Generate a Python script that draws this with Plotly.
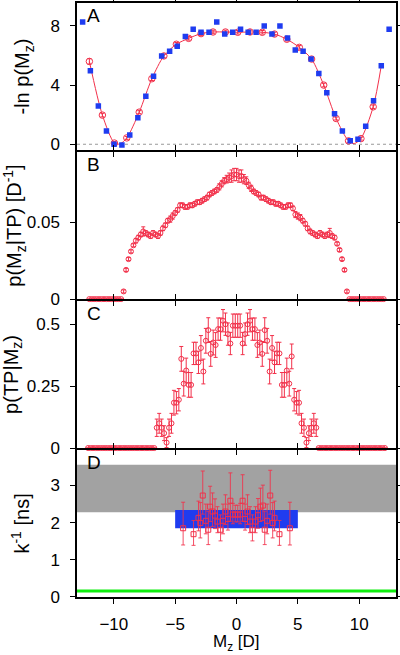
import plotly.graph_objects as go
from plotly.subplots import make_subplots

# ---------------- Panel A ----------------
A_blue_x = [-12.54, -11.91, -11.26, -10.6, -9.98, -9.34, -8.7, -8.04, -7.39, -6.76,
            -6.1, -5.45, -4.83, -4.17, -3.53, -2.89, -2.24, -1.61, -0.96, -0.31,
            0.33, 0.95, 1.6, 2.26, 2.89, 3.54, 4.16, 4.79, 5.43, 6.08,
            6.71, 7.36, 7.99, 8.63, 9.27, 9.9, 10.53, 11.17, 11.8, 12.44]
A_blue_y = [8.27, 4.97, 2.58, 0.90, 0.0, -0.05, 0.63, 1.79, 3.25, 4.59,
            5.97, 6.28, 6.62, 7.28, 7.77, 7.57, 7.57, 8.27, 7.46, 7.57,
            7.77, 7.57, 7.57, 8.0, 7.45, 8.0, 7.19, 6.37, 6.28, 5.76,
            4.79, 3.48, 2.06, 0.90, 0.23, 0.34, 1.22, 2.94, 5.31, 7.77]

A_red_x = [-11.99, -10.93, -9.95, -8.94, -7.93, -6.9, -5.92, -4.9, -3.9, -2.89,
           -1.91, -0.9, 0.1, 1.1, 2.1, 3.1, 4.1, 5.12, 6.12, 7.11,
           8.12, 9.13, 10.14, 11.14]
A_red_y = [5.60, 1.97, 0.08, 0.43, 2.17, 4.43, 5.97, 6.76, 7.16, 7.48,
           7.59, 7.59, 7.57, 7.59, 7.57, 7.45, 7.10, 6.55, 5.76, 4.00,
           1.74, 0.23, 0.38, 2.53]
A_red_err = [0.18, 0.12, 0.1, 0.1, 0.1, 0.12, 0.12, 0.12, 0.12, 0.12,
             0.12, 0.12, 0.12, 0.12, 0.12, 0.12, 0.12, 0.12, 0.12, 0.12,
             0.1, 0.1, 0.1, 0.12]

A_fit_x = [-11.99, -10.93, -9.95, -9.5, -8.94, -7.93, -6.9, -5.92, -4.9, -3.9, -2.89,
           -1.91, -0.9, 0.1, 1.1, 2.1, 3.1, 4.1, 5.12, 6.12, 7.11,
           8.12, 9.13, 9.6, 10.14, 11.14, 11.8]
A_fit_y = [5.60, 1.97, 0.08, 0.02, 0.43, 2.17, 4.43, 5.97, 6.76, 7.16, 7.48,
           7.59, 7.59, 7.57, 7.59, 7.57, 7.45, 7.10, 6.55, 5.76, 4.00,
           1.74, 0.23, 0.05, 0.38, 2.53, 5.31]

# ---------------- Panel B ----------------
B_x = [-12.0, -11.8, -11.6, -11.4, -11.2, -11.0, -10.8, -10.6, -10.4, -10.2,
       -10.0, -9.8, -9.6, -9.4, -9.2, -9.0, -8.8, -8.6, -8.4, -8.2,
       -8.0, -7.8, -7.6, -7.4, -7.2, -7.0, -6.8, -6.6, -6.4, -6.2,
       -6.0, -5.8, -5.6, -5.4, -5.2, -5.0, -4.8, -4.6, -4.4, -4.2,
       -4.0, -3.8, -3.6, -3.4, -3.2, -3.0, -2.8, -2.6, -2.4, -2.2,
       -2.0, -1.8, -1.6, -1.4, -1.2, -1.0, -0.8, -0.6, -0.4, -0.2,
       0.0, 0.2, 0.4, 0.6, 0.8, 1.0, 1.2, 1.4, 1.6, 1.8,
       2.0, 2.2, 2.4, 2.6, 2.8, 3.0, 3.2, 3.4, 3.6, 3.8,
       4.0, 4.2, 4.4, 4.6, 4.8, 5.0, 5.2, 5.4, 5.6, 5.8,
       6.0, 6.2, 6.4, 6.6, 6.8, 7.0, 7.2, 7.4, 7.6, 7.8,
       8.0, 8.2, 8.4, 8.6, 8.8, 9.0, 9.2, 9.4, 9.6, 9.8,
       10.0, 10.2, 10.4, 10.6, 10.8, 11.0, 11.2, 11.4, 11.6, 11.8,
       12.0]
B_y = [0, 0, 0, 0, 0, 0, 0, 0, 0, 0,
       0, 0, 0, 0, 0.005, 0.019, 0.026, 0.031, 0.035, 0.038,
       0.040, 0.042, 0.044, 0.043, 0.042, 0.041, 0.043, 0.042, 0.041, 0.043,
       0.046, 0.048, 0.051, 0.052, 0.054, 0.056, 0.058, 0.061, 0.061, 0.060,
       0.060, 0.061, 0.061, 0.062, 0.063, 0.063, 0.064, 0.065, 0.066, 0.068,
       0.069, 0.070, 0.071, 0.073, 0.075, 0.077, 0.078, 0.079, 0.080, 0.081,
       0.081, 0.080, 0.080, 0.078, 0.077, 0.074, 0.072, 0.070, 0.069, 0.068,
       0.066, 0.066, 0.065, 0.064, 0.063, 0.063, 0.062, 0.062, 0.061, 0.060,
       0.060, 0.061, 0.061, 0.059, 0.055, 0.054, 0.053, 0.051, 0.049, 0.046,
       0.044, 0.043, 0.042, 0.041, 0.043, 0.042, 0.041, 0.042, 0.043, 0.041,
       0.040, 0.036, 0.032, 0.026, 0.019, 0.005, 0, 0, 0, 0,
       0, 0, 0, 0, 0, 0, 0, 0, 0, 0,
       0]
B_err = [0, 0, 0, 0, 0, 0, 0, 0, 0, 0,
         0, 0, 0, 0, 0.001, 0.001, 0.001, 0.001, 0.001, 0.0015,
         0.0015, 0.0015, 0.003, 0.0015, 0.0015, 0.0015, 0.0015, 0.0015, 0.0015, 0.0015,
         0.0015, 0.0015, 0.0015, 0.002, 0.002, 0.0015, 0.0015, 0.0015, 0.0015, 0.0015,
         0.0015, 0.0015, 0.0015, 0.0015, 0.0015, 0.0015, 0.0015, 0.0015, 0.0015, 0.0015,
         0.0015, 0.0015, 0.0015, 0.002, 0.002, 0.002, 0.0025, 0.003, 0.004, 0.004,
         0.004, 0.004, 0.004, 0.003, 0.0025, 0.002, 0.002, 0.0015, 0.0015, 0.0015,
         0.0015, 0.0015, 0.0015, 0.0015, 0.0015, 0.0015, 0.0015, 0.0015, 0.0015, 0.0015,
         0.0015, 0.0015, 0.0015, 0.0015, 0.002, 0.002, 0.002, 0.0015, 0.0015, 0.0015,
         0.0015, 0.0015, 0.0015, 0.0015, 0.0015, 0.0015, 0.0015, 0.0015, 0.003, 0.0015,
         0.0015, 0.001, 0.001, 0.001, 0.001, 0.001, 0, 0, 0, 0,
         0, 0, 0, 0, 0, 0, 0, 0, 0, 0,
         0]

# ---------------- Panel C ----------------
C_x = [-12.1, -11.9, -11.7, -11.5, -11.3, -11.1, -10.9, -10.7, -10.5, -10.3,
       -10.1, -9.9, -9.7, -9.5, -9.3, -9.1, -8.9, -8.7, -8.5, -8.3,
       -8.1, -7.9, -7.7, -7.5, -7.3, -7.1, -6.9, -6.7,
       -6.5, -6.3, -6.1, -5.9, -5.7, -5.5, -5.3, -5.1, -4.9, -4.7,
       -4.5, -4.3, -4.1, -3.9, -3.7, -3.5, -3.3, -3.1, -2.9, -2.7,
       -2.5, -2.3, -2.1, -1.9, -1.7, -1.5, -1.3, -1.1, -0.9, -0.7,
       -0.5, -0.3, -0.1, 0.1, 0.3, 0.5, 0.7, 0.9, 1.1, 1.3,
       1.5, 1.7, 1.9, 2.1, 2.3, 2.5, 2.7, 2.9, 3.1, 3.3,
       3.5, 3.7, 3.9, 4.1, 4.3, 4.5, 4.7, 4.9, 5.1, 5.3,
       5.5, 5.7, 5.9, 6.1, 6.3, 6.5,
       6.7, 6.9, 7.1, 7.3, 7.5, 7.7, 7.9, 8.1, 8.3, 8.5,
       8.7, 8.9, 9.1, 9.3, 9.5, 9.7, 9.9, 10.1, 10.3, 10.5,
       10.7, 10.9, 11.1, 11.3, 11.5, 11.7, 11.9, 12.1]
C_y = [0, 0, 0, 0, 0, 0, 0, 0, 0, 0,
       0, 0, 0, 0, 0, 0, 0, 0, 0, 0,
       0, 0, 0, 0, 0, 0, 0, 0,
       0.082, 0.10, 0.082, 0.06, 0.022, 0.082, 0.10, 0.183, 0.183, 0.195,
       0.36, 0.26, 0.313, 0.255, 0.255, 0.382, 0.382, 0.346, 0.404, 0.309,
       0.433, 0.476, 0.38, 0.426, 0.416, 0.48, 0.48, 0.514, 0.50, 0.46,
       0.422, 0.494, 0.494, 0.494, 0.494, 0.422, 0.46, 0.50, 0.514, 0.48,
       0.48, 0.416, 0.426, 0.38, 0.476, 0.433, 0.309, 0.404, 0.346, 0.382,
       0.382, 0.255, 0.255, 0.313, 0.26, 0.37, 0.195, 0.183, 0.183, 0.10,
       0.082, 0.022, 0.06, 0.082, 0.10, 0.082,
       0, 0, 0, 0, 0, 0, 0, 0, 0, 0,
       0, 0, 0, 0, 0, 0, 0, 0, 0, 0,
       0, 0, 0, 0, 0, 0, 0, 0]
C_err = [0, 0, 0, 0, 0, 0, 0, 0, 0, 0,
         0, 0, 0, 0, 0, 0, 0, 0, 0, 0,
         0, 0, 0, 0, 0, 0, 0, 0,
         0.035, 0.04, 0.035, 0.03, 0.02, 0.035, 0.04, 0.05, 0.045, 0.045,
         0.05, 0.05, 0.05, 0.05, 0.05, 0.045, 0.045, 0.045, 0.05, 0.05,
         0.05, 0.05, 0.05, 0.05, 0.05, 0.045, 0.045, 0.045, 0.045, 0.045,
         0.045, 0.047, 0.047, 0.047, 0.047, 0.045, 0.045, 0.045, 0.045, 0.045,
         0.045, 0.05, 0.05, 0.05, 0.05, 0.05, 0.05, 0.05, 0.045, 0.045,
         0.045, 0.05, 0.05, 0.05, 0.05, 0.05, 0.045, 0.045, 0.05, 0.04,
         0.035, 0.02, 0.03, 0.035, 0.04, 0.035,
         0, 0, 0, 0, 0, 0, 0, 0, 0, 0,
         0, 0, 0, 0, 0, 0, 0, 0, 0, 0,
         0, 0, 0, 0, 0, 0, 0, 0]

# ---------------- Panel D ----------------
D_x = [-4.35, -3.5, -3.1, -2.95, -2.75, -2.5, -2.3, -2.15, -1.95, -1.75,
       -1.55, -1.3, -1.1, -0.9, -0.7, -0.5, -0.3, -0.1, 0.1, 0.3,
       0.5, 0.7, 0.9, 1.1, 1.3, 1.55, 1.75, 1.95, 2.15, 2.3,
       2.5, 2.75, 2.95, 3.1, 3.5, 4.35]
D_y = [1.85, 1.69, 2.13, 1.99, 2.73, 2.05, 1.81, 2.43, 2.30, 2.19,
       2.03, 1.81, 2.05, 2.30, 2.10, 2.59, 2.22, 2.22, 2.22, 2.22,
       2.59, 2.10, 2.30, 2.03, 1.81, 2.03, 2.20, 2.43, 2.46, 1.81,
       2.05, 2.73, 1.99, 2.13, 1.69, 1.85]
D_err_plus = [0.70, 0.37, 0.45, 0.55, 0.66, 0.45, 0.50, 0.55, 0.50, 0.45,
              0.40, 0.40, 0.45, 0.45, 0.40, 0.75, 0.30, 0.25, 0.25, 0.30,
              0.70, 0.40, 0.45, 0.40, 0.40, 0.40, 0.45, 0.50, 0.55, 0.50,
              0.45, 0.68, 0.55, 0.45, 0.37, 0.70]
D_err_minus = [0.45, 0.30, 0.35, 0.40, 0.50, 0.35, 0.40, 0.40, 0.40, 0.35,
               0.30, 0.30, 0.35, 0.35, 0.30, 0.55, 0.25, 0.20, 0.20, 0.25,
               0.55, 0.30, 0.35, 0.30, 0.30, 0.30, 0.35, 0.40, 0.40, 0.40,
               0.35, 0.50, 0.40, 0.35, 0.30, 0.45]
D_gray_band = [2.28, 3.56]
D_blue_box_x = [-5.0, 5.0]
D_blue_box_y = [1.85, 2.34]
D_green_level = 0.16

# tick labels
X_TICKS = [-10, -5, 0, 5, 10]
A_TICKS = [0, 4, 8]
B_TICKS = [0, 0.05]
C_TICKS = [0, 0.25, 0.5]
C_TICKTEXT = ["0", "0.25", "0.5"]
D_TICKS = [0, 1, 2, 3]

RED = "#f2304a"
BLUE = "#1f3cf0"
FONT = "Liberation Sans, Arial, Helvetica, sans-serif"

fig = make_subplots(rows=4, cols=1, shared_xaxes=True, vertical_spacing=0.003)

# A
fig.add_trace(go.Scatter(x=A_fit_x, y=A_fit_y, mode="lines", line=dict(color=RED, width=1, shape="spline", smoothing=0.8),
                         hoverinfo="skip"), row=1, col=1)
fig.add_trace(go.Scatter(x=A_red_x, y=A_red_y, mode="markers",
                         marker=dict(symbol="circle-open", size=6.5, color=RED, line=dict(width=1)),
                         error_y=dict(type="data", array=A_red_err, color=RED, thickness=1, width=2)),
              row=1, col=1)
fig.add_trace(go.Scatter(x=A_blue_x, y=A_blue_y, mode="markers",
                         marker=dict(symbol="square", size=5.5, color=BLUE)), row=1, col=1)

# B
fig.add_trace(go.Scatter(x=B_x, y=B_y, mode="markers", cliponaxis=False,
                         marker=dict(symbol="circle-open", size=5, color=RED, line=dict(width=1)),
                         error_y=dict(type="data", array=B_err, color=RED, thickness=1, width=2)),
              row=2, col=1)
# C
fig.add_trace(go.Scatter(x=C_x, y=C_y, mode="markers", cliponaxis=False,
                         marker=dict(symbol="circle-open", size=5, color=RED, line=dict(width=1)),
                         error_y=dict(type="data", array=C_err, color=RED, thickness=1, width=2)),
              row=3, col=1)
# D
fig.add_trace(go.Scatter(x=D_x, y=D_y, mode="markers",
                         marker=dict(symbol="square-open", size=5, color=RED, line=dict(width=1)),
                         error_y=dict(type="data", symmetric=False, array=D_err_plus,
                                      arrayminus=D_err_minus, color="rgba(242,48,74,0.85)",
                                      thickness=1, width=2)),
              row=4, col=1)

# shapes in D
fig.add_shape(type="rect", xref="x4 domain", yref="y4", x0=0, x1=1,
              y0=D_gray_band[0], y1=D_gray_band[1], fillcolor="#a2a2a2", line_width=0, layer="below")
fig.add_shape(type="rect", xref="x4", yref="y4", x0=D_blue_box_x[0], x1=D_blue_box_x[1],
              y0=D_blue_box_y[0], y1=D_blue_box_y[1], fillcolor=BLUE, line_width=0, layer="below")
fig.add_shape(type="line", xref="x4 domain", yref="y4", x0=0, x1=1,
              y0=D_green_level, y1=D_green_level, line=dict(color="#10ee10", width=3), layer="below")
# dotted zero line in A
fig.add_shape(type="line", xref="x domain", yref="y", x0=0, x1=1, y0=0, y1=0,
              line=dict(color="#999999", width=1, dash="dot"), layer="below")

axis_common = dict(showline=True, linecolor="black", linewidth=1.5, mirror="ticks",
                   ticks="outside", ticklen=5, tickwidth=1, tickcolor="black",
                   showgrid=False, zeroline=False, automargin=False)

for r in range(1, 5):
    fig.update_xaxes(range=[-13, 13], tickvals=X_TICKS, showticklabels=(r == 4),
                     ticklabelstandoff=6, row=r, col=1, **axis_common)

fig.update_yaxes(range=[-0.4, 9.55], tickvals=A_TICKS, title=dict(text="-ln p(M<sub>z</sub>)"),
                 row=1, col=1, **axis_common)
fig.update_yaxes(range=[0, 0.0957], tickvals=B_TICKS, ticktext=["0", "0.05"],
                 title=dict(text="p(M<sub>z</sub>|TP) [D<sup>-1</sup>]"), row=2, col=1, **axis_common)
fig.update_yaxes(range=[0, 0.594], tickvals=C_TICKS, ticktext=C_TICKTEXT,
                 title=dict(text="p(TP|M<sub>z</sub>)"), row=3, col=1, **axis_common)
fig.update_yaxes(range=[0, 3.96], tickvals=D_TICKS, title=dict(text="k<sup>-1</sup> [ns]"),
                 row=4, col=1, **axis_common)
fig.update_yaxes(ticklabelstandoff=7)

# x-axis title placed below the tick labels
fig.add_annotation(text="M<sub>z</sub> [D]", xref="x4 domain", yref="paper", x=0.5, y=-0.078,
                   xanchor="center", yanchor="middle", showarrow=False,
                   font=dict(size=17, family=FONT))

for letter, ax in zip(["A", "B", "C", "D"], ["", "2", "3", "4"]):
    fig.add_annotation(text=letter, xref=f"x{ax} domain", yref=f"y{ax} domain", x=0.025, y=1.0,
                       xanchor="left", yanchor="top", showarrow=False, font=dict(size=19, family=FONT))

fig.update_layout(width=400, height=655, autosize=False, showlegend=False,
                  margin=dict(l=77, r=4, t=3, b=58),
                  paper_bgcolor="white", plot_bgcolor="white",
                  font=dict(family=FONT, size=17, color="black"))

fig.write_html("out.html", config={"responsive": False, "displayModeBar": False},
               post_script="document.body.style.margin='0px';document.body.style.overflow='hidden';")
